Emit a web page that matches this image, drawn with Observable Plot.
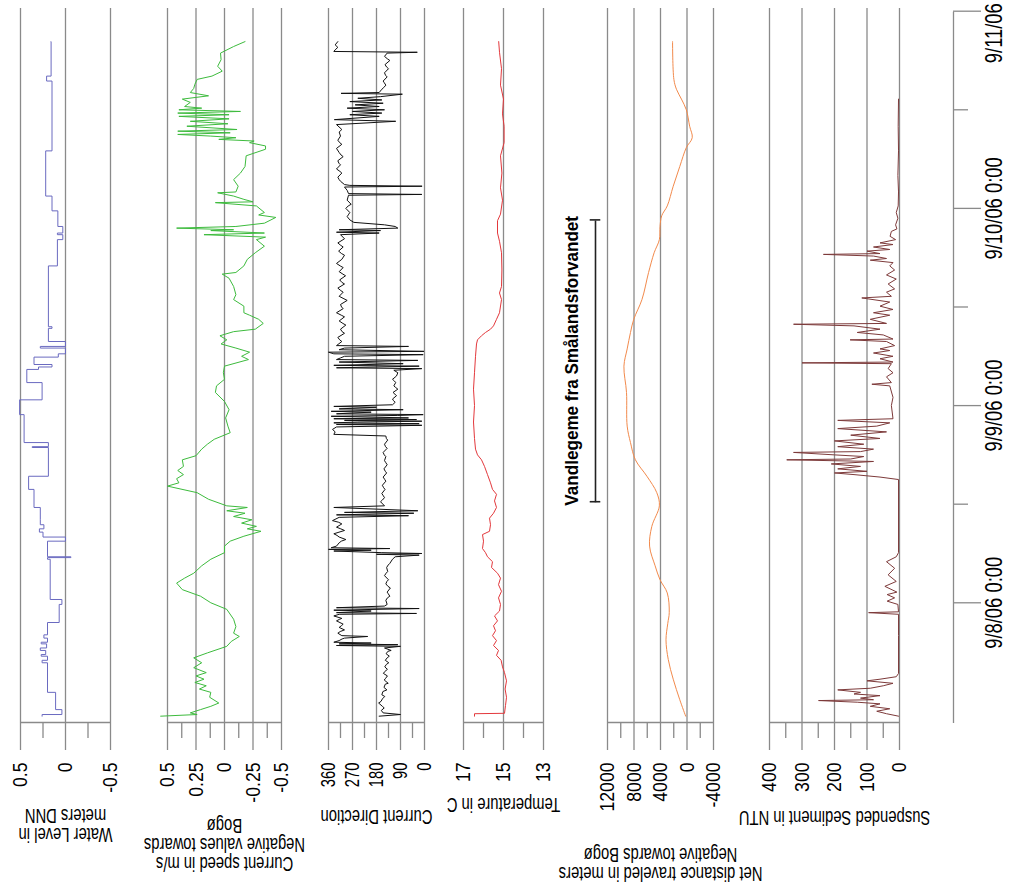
<!DOCTYPE html>
<html><head><meta charset="utf-8">
<script src="https://cdn.jsdelivr.net/npm/d3@7"></script>
<script src="https://cdn.jsdelivr.net/npm/@observablehq/plot@0.6"></script>
<style>
html,body{margin:0;padding:0;background:#fff;overflow:hidden;width:1015px;height:896px;}
#rot{position:absolute;left:0;top:0;width:896px;height:1015px;transform-origin:0 0;transform:translate(0,896px) rotate(-90deg);}
#rot svg{position:absolute;left:0;top:0;}
</style></head>
<body><div id="rot"></div>
<script>
// ---------- DATA (time in hours after 9/8/06 0:00) ----------
const timeTickHours = [0, 24, 48, 72];
const timeTickLabels = ["9/8/06 0:00", "9/9/06 0:00", "9/10/06 0:00", "9/11/06"];
const timeMinorHours = [12, 36, 60];

const waterLevel = [
[-13.8,0.26],[-13.6,0.04],[-13.0,0.11],[-10.9,0.20],[-7.3,0.26],[-7.0,0.20],[-6.5,0.27],[-6.3,0.22],[-5.8,0.28],[-5.5,0.21],[-5.0,0.27],[-4.8,0.20],[-4.3,0.24],[-3.9,0.20],[-2.4,0.07],[-0.2,0.04],[0.4,0.17],[5.3,0.20],[5.5,-0.06],[5.6,0.20],[7.5,0.0],[8.0,0.25],[8.6,0.29],[9.0,0.24],[9.5,0.28],[10.1,0.28],[11.6,0.35],[13.8,0.41],[15.4,0.19],[18.9,0.37],[19.0,0.19],[19.5,0.46],[22.9,0.51],[24.7,0.26],[26.8,0.43],[28.4,0.30],[28.7,0.15],[29.0,0.35],[29.9,0.08],[30.3,0.0],[31.0,0.28],[31.2,0.0],[31.8,0.19],[33.4,0.15],[33.6,0.19],[41.0,0.09],[44.2,0.03],[44.8,0.09],[45.0,0.03],[45.8,0.085],[47.7,0.15],[49.5,0.22],[55.0,0.15],[63.5,0.21],[64.1,0.16],[68.3,0.16]
];

const currentSpeed = [
[-13.8,0.56],[-13.6,0.24],[-13.4,0.30],[-13.0,0.21],[-12.6,0.12],[-12.2,0.05],[-11.5,0.13],[-10.9,0.12],[-10.5,0.22],[-10.1,0.16],[-9.7,0.26],[-9.3,0.18],[-8.9,0.25],[-8.5,0.16],[-7.9,0.27],[-7.3,0.20],[-6.7,0.27],[-6.1,0.15],[-5.3,-0.02],[-4.7,-0.06],[-4.1,-0.13],[-3.7,-0.08],[-2.9,-0.10],[-2.0,-0.08],[-0.8,-0.02],[0.0,0.12],[0.8,0.21],[1.6,0.37],[2.4,0.42],[3.0,0.35],[3.6,0.27],[4.5,0.20],[5.3,0.12],[6.1,0.0],[6.9,0.0],[7.5,-0.05],[8.1,-0.17],[8.7,-0.32],[9.0,-0.20],[9.3,-0.28],[9.7,-0.15],[10.1,-0.24],[10.5,-0.08],[10.9,-0.18],[11.2,-0.02],[11.6,-0.20],[11.8,-0.02],[12.6,0.14],[13.4,0.24],[14.2,0.50],[14.6,0.40],[15.1,0.42],[15.6,0.36],[16.1,0.41],[16.6,0.36],[17.4,0.37],[17.9,0.25],[18.7,0.20],[19.3,0.15],[19.9,0.09],[20.7,-0.05],[21.5,-0.03],[22.5,-0.01],[23.5,-0.04],[24.5,0.0],[25.6,0.08],[26.4,0.07],[27.2,0.0],[28.0,0.01],[28.8,0.0],[29.6,-0.21],[30.0,-0.15],[30.5,-0.22],[31.0,-0.10],[31.5,0.03],[32.0,-0.02],[32.5,0.04],[33.0,-0.08],[33.3,-0.27],[34.0,-0.34],[34.5,-0.30],[35.0,-0.22],[35.3,-0.17],[36.1,-0.17],[36.9,-0.08],[37.5,-0.10],[38.5,-0.08],[39.5,-0.04],[40.0,0.02],[40.2,-0.10],[41.0,-0.17],[41.8,-0.20],[42.6,-0.27],[43.4,-0.35],[44.2,-0.28],[44.5,-0.36],[44.8,0.18],[45.0,-0.35],[45.3,0.12],[45.4,-0.08],[45.6,0.42],[45.8,-0.10],[46.2,-0.35],[46.9,-0.45],[47.2,-0.30],[47.5,-0.35],[48.3,-0.28],[48.7,0.08],[48.8,-0.25],[49.1,-0.17],[49.5,-0.08],[49.9,0.06],[50.0,-0.10],[50.7,-0.12],[51.5,-0.08],[52.3,-0.14],[53.1,-0.18],[54.4,-0.19],[55.2,-0.36],[55.6,-0.36],[56.0,-0.22],[56.2,-0.26],[56.4,0.05],[56.6,-0.10],[56.8,0.12],[57.0,0.41],[57.2,-0.05],[57.4,0.41],[57.6,-0.11],[58.0,0.33],[58.3,-0.03],[58.6,0.30],[58.9,-0.04],[59.2,0.40],[59.4,-0.04],[59.6,0.41],[59.8,-0.14],[60.0,0.40],[60.2,0.20],[60.4,0.35],[60.9,0.30],[61.3,0.37],[61.7,0.14],[62.1,0.30],[62.6,0.27],[63.1,0.26],[63.7,0.24],[64.1,0.11],[64.7,0.02],[65.3,0.06],[66.1,0.03],[66.9,0.035],[67.7,-0.08],[68.3,-0.18]
];

const currentDirection = [
[-13.8,170],[-13.6,90],[-13.4,155],[-13.1,162],[-12.8,151],[-12.6,158],[-12.2,172],[-12.0,163],[-11.7,158],[-11.4,149],[-11.2,160],[-10.8,156],[-10.6,141],[-10.3,152],[-9.9,147],[-9.8,136],[-9.4,151],[-9.2,146],[-8.9,139],[-8.6,154],[-8.4,150],[-8.1,139],[-7.8,149],[-7.5,143],[-7.3,134],[-7.0,147],[-6.7,140],[-6.5,132],[-6.2,144],[-5.9,137],[-5.8,125],[-5.5,150],[-5.3,90],
[-5.2,330],[-5.1,100],[-5.0,320],[-4.9,200],[-4.8,340],
[-4.6,320],[-4.4,309],[-4.3,300],[-4.1,213],[-4.0,310],[-3.7,325],[-3.5,316],[-3.3,300],[-3.0,320],[-2.8,312],[-2.6,305],[-2.2,330],[-2.0,318],[-1.9,310],[-1.6,340],[-1.4,320],
[-1.3,30],[-1.2,330],[-1.0,200],[-0.9,340],[-0.7,20],[-0.6,330],[-0.4,150],[-0.2,140],
[0.3,145],[0.6,139],[0.8,130],[1.1,136],[1.3,140],[1.8,128],[2.0,137],[2.3,145],[2.6,141],[2.8,135],[3.3,150],[3.6,144],[3.8,138],[4.3,142],[4.6,136],[4.8,130],[5.3,120],[5.6,110],
[5.8,20],[5.9,180],[6.0,10],[6.1,160],[6.3,340],[6.4,200],[6.5,360],[6.6,130],[6.7,350],[6.9,330],
[7.3,320],[7.5,312],[7.7,295],[8.0,320],[8.2,328],[8.4,340],[8.8,300],[9.0,314],[9.2,330],[9.6,310],[9.8,322],[10.0,345],[10.4,320],
[10.6,60],[10.7,330],[10.9,40],[11.0,300],[11.2,25],[11.4,180],[11.6,340],[11.8,150],
[12.3,165],[12.5,158],[12.8,150],[13.1,156],[13.3,160],[13.8,148],[14.0,153],[14.3,158],[14.8,145],[15.0,149],[15.3,155],[15.8,142],[16.0,147],[16.3,152],[16.8,140],[17.1,146],[17.3,150],[17.8,145],[18.0,151],[18.3,155],[18.8,140],[19.0,146],[19.3,150],[19.8,138],[20.0,143],[20.3,145],[20.5,340],
[20.8,335],[21.1,345],[21.4,330],
[21.6,10],[21.7,330],[21.8,20],[21.9,340],[22.0,250],[22.1,10],[22.2,300],[22.3,30],[22.4,340],[22.5,60],[22.7,350],[22.8,100],[22.9,5],[23.0,330],[23.2,200],[23.3,350],[23.5,80],[23.6,320],[23.8,180],[23.9,340],[24.1,120],
[24.4,110],[24.6,116],[24.8,120],[25.2,105],[25.4,111],[25.6,118],[26.0,100],[26.2,108],[26.4,115],[26.8,108],[27.0,113],[27.2,120],[27.6,105],[28.0,100],[28.3,115],
[28.5,10],[28.6,330],[28.8,20],[28.9,340],[29.1,80],[29.3,320],[29.5,25],[29.6,330],
[29.8,315],[30.0,300],[30.2,5],[30.3,340],[30.5,360],[30.6,2],[30.8,320],[31.0,300],[31.2,60],[31.3,330],
[31.8,310],[32.0,318],[32.3,325],[32.8,300],[33.0,309],[33.3,315],[33.8,295],[34.0,306],[34.3,320],[34.8,300],[35.0,312],[35.3,330],[35.8,305],[36.0,311],[36.3,315],[36.8,290],[37.0,302],[37.3,320],[37.8,305],[38.0,314],[38.3,325],[38.8,300],[39.0,310],[39.3,318],[39.8,296],[40.0,306],[40.3,320],[40.8,305],[41.0,316],[41.3,330],[41.8,310],[42.3,300],[42.5,311],[42.8,322],[43.3,305],[43.5,314],[43.8,325],[44.3,300],[44.8,315],
[45.0,170],[45.1,330],[45.3,165],[45.4,320],[45.6,100],[45.8,110],[46.0,150],[46.3,265],[46.6,280],
[47.0,290],[47.3,284],[47.5,280],[48.0,295],[48.3,286],[48.5,275],[49.0,290],[49.6,285],[49.7,10],[49.8,285],[50.2,290],[50.6,300],[50.7,9],[50.8,280],[50.9,300],
[51.3,315],[51.5,320],[51.8,325],[52.3,310],[52.5,317],[52.8,330],[53.3,315],[53.5,321],[53.8,325],[54.3,305],[54.5,313],[54.8,320],[55.3,330],[55.8,310],[56.0,318],[56.3,325],[56.8,315],[57.3,320],[57.6,310],
[58.2,330],[58.6,108],[58.8,338],
[59.2,170],[59.4,280],[59.6,160],[59.8,270],[60.0,150],[60.2,290],[60.4,170],[60.6,260],[60.8,155],[61.0,280],[61.2,160],[61.4,250],[61.6,165],[61.9,83],[62.0,313],[62.1,170],
[62.5,160],[62.7,153],[63.0,145],[63.3,151],[63.5,155],[64.0,140],[64.2,146],[64.5,150],[65.0,135],[65.2,142],[65.5,148],[66.0,130],[66.2,139],[66.5,150],[66.9,140],[67.0,27],[67.1,340],[67.3,335],[67.6,325],[67.9,335],[68.3,325]
];

const temperature = [
[-13.8,16.45],[-13.5,16.45],[-13.45,14.95],[-12.5,14.9],[-11.5,14.85],[-10.5,14.92],[-9.5,14.85],[-8.5,14.95],[-7.8,15.05],[-7.0,15.12],[-6.4,15.35],[-5.8,15.25],[-5.2,15.5],[-4.6,15.35],[-4.0,15.55],[-3.4,15.4],[-2.8,15.5],[-2.2,15.3],[-1.6,15.45],[-1.0,15.2],[-0.2,15.15],[0.6,15.25],[1.4,15.1],[2.2,15.25],[3.0,15.15],[3.6,15.3],[4.3,15.6],[5.0,15.55],[5.6,15.8],[6.1,15.9],[6.6,16.05],[7.5,16.0],[8.3,16.05],[8.7,15.7],[9.5,15.65],[10.3,15.7],[10.9,15.5],[11.6,15.35],[12.4,15.45],[13.2,15.35],[13.8,15.55],[14.6,15.65],[15.6,15.8],[16.6,15.95],[17.4,16.1],[18.0,16.3],[18.7,16.4],[20.0,16.45],[22.0,16.5],[24.0,16.45],[26.0,16.5],[28.0,16.45],[30.0,16.4],[31.5,16.35],[32.0,16.3],[32.5,16.1],[32.9,15.9],[33.3,15.65],[33.7,15.5],[34.5,15.35],[35.3,15.2],[36.9,15.1],[37.7,15.2],[38.5,15.1],[40.5,15.08],[42.6,15.1],[44.0,15.2],[45.0,15.3],[46.5,15.3],[47.3,15.15],[49.0,15.05],[50.5,15.15],[52.3,15.08],[54.4,15.15],[56.0,14.97],[58.0,14.97],[59.5,15.05],[61.3,15.0],[63.0,15.15],[65.0,15.1],[67.0,15.2],[68.3,15.24]
];

const netDistance = [
[-13.8,200],[-11.8,1090],[-9.3,2080],[-6.9,2830],[-4.5,3170],[-2.5,2900],[-1.2,2680],[1.2,2980],[2.8,4070],[4.5,4810],[6.9,5650],[9.3,5310],[11.8,4170],[13.4,4560],[15.4,6050],[17.4,7790],[19.5,8530],[21.5,9030],[25.6,9130],[28.8,9520],[30.9,9030],[32.9,8530],[34.5,8040],[36.9,6800],[40.2,5800],[42.6,4960],[44.2,4170],[45.8,4070],[47.1,3820],[48.3,2980],[50.7,2080],[53.1,1090],[55.4,100],[56.6,-790],[58.0,-400],[60.0,100],[61.3,840],[62.5,1590],[63.7,1980],[68.3,2180]
];

const suspendedSediment = [
[-13.8,3],[-13.5,40],[-13.2,70],[-12.9,30],[-12.6,90],[-12.3,60],[-12.1,130],[-11.9,249],[-11.8,80],[-11.6,120],[-11.3,60],[-11.1,140],[-10.9,120],[-10.6,190],[-10.4,90],[-10.1,50],[-9.8,20],[-9.5,100],[-9.3,60],[-9.0,10],[-8.6,3],[-4.0,3],[-1.4,3],[-1.2,95],[-1.1,3],[-0.2,5],[0.2,38],[0.6,15],[1.0,38],[1.3,8],[2.0,45],[2.6,10],[3.4,35],[4.2,15],[5.0,40],[5.6,10],[6.1,3],[15.0,3],[15.3,60],[15.6,140],[15.8,200],[16.0,100],[16.3,190],[16.6,120],[16.9,210],[17.2,80],[17.4,347],[17.5,150],[17.8,110],[18.0,200],[18.3,326],[18.4,120],[18.7,80],[19.0,190],[19.3,110],[19.7,200],[20.0,60],[20.4,150],[20.8,40],[21.2,190],[21.5,70],[21.9,30],[22.2,190],[22.4,20],[24.0,25],[25.0,20],[26.4,30],[26.6,85],[26.8,25],[27.5,40],[28.0,20],[28.5,35],[29.1,25],[29.2,300],[29.3,20],[29.7,60],[30.0,20],[30.4,80],[30.7,30],[30.9,60],[31.3,15],[31.8,40],[32.0,152],[32.1,20],[32.6,50],[32.9,130],[33.3,60],[33.7,140],[33.9,326],[34.0,40],[34.5,90],[35.0,30],[35.3,80],[35.7,20],[36.1,60],[36.6,30],[37.1,116],[37.3,25],[37.8,40],[38.2,15],[38.8,35],[39.4,10],[39.9,40],[40.5,15],[41.0,30],[41.4,20],[41.7,90],[41.9,40],[42.2,80],[42.4,234],[42.5,60],[42.8,100],[43.0,30],[43.3,80],[43.6,20],[43.8,60],[44.2,12],[44.6,29],[45.2,25],[45.5,8],[46.0,12],[46.8,5],[47.5,10],[48.3,4],[50.0,3],[52.0,5],[55.0,3],[58.0,4],[61.3,3]
];

const annotationLabel = "Vandlegeme fra Smålandsforvandet";
const annotationHours = [12.3, 46.6];

// ---------- LAYOUT (unrotated frame, rotated -90° afterwards) ----------
const W = 896, H = 1015;
const t0 = Date.UTC(2006, 8, 8);
const toTime = h => new Date(t0 + h * 3600000);
const timeDomain = [toTime(-14.57), toTime(72.45)];
const xRange = [173, 888];
const FONT = "'Liberation Sans', Arial, Helvetica, sans-serif";
const GRID = "#8a8a8a";
const condenseBySize = {21: 0.84, 20: 0.74, 23: 0.8, 19: 0.9};

function condense(svg) {
  svg.querySelectorAll("text").forEach(t => {
    const g = t.closest("[font-size]");
    const fs = g ? parseFloat(g.getAttribute("font-size")) : 10;
    const s = condenseBySize[fs];
    if (!s) return;
    let tr = t.getAttribute("transform");
    if (!tr) {
      const x = +t.getAttribute("x") || 0, y = +t.getAttribute("y") || 0;
      t.removeAttribute("x"); t.removeAttribute("y");
      tr = `translate(${x},${y})`;
    }
    t.setAttribute("transform", `${tr} scale(${s},1)`);
  });
  return svg;
}

const baseStyle = `background:transparent;position:absolute;left:0;top:0;overflow:visible;font-family:${FONT};color:#000;`;

const panels = [
  {data: waterLevel, color: "#6a6ac0", domain: [-0.5, 0.5], top: 20, bottom: 110, major: [0.5, 0, -0.5], minor: [0.25, -0.25], title: "Water Level in\nmeters DNN", titleX: 71, curve: "step-after", fs: 21},
  {data: currentSpeed, color: "#3dbb3d", domain: [-0.5, 0.5], top: 167, bottom: 281, major: [0.5, 0.25, 0, -0.25, -0.5], minor: [0.375, 0.125, -0.125, -0.375], title: "Current speed in m/s\nNegative values towards\nBogø", titleX: 51, curve: "linear", fs: 21},
  {data: currentDirection, color: "#111111", domain: [0, 360], top: 328, bottom: 424, major: [360, 270, 180, 90, 0], minor: [315, 225, 135, 45], title: "Current Direction", titleX: 79, curve: "linear", fs: 20},
  {data: temperature, color: "#e3383c", domain: [13, 17], top: 463, bottom: 543, major: [17, 15, 13], minor: [16, 14], title: "Temperature in C", titleX: 91, curve: "linear", fs: 21},
  {data: netDistance, color: "#f28a4c", domain: [-4000, 12000], top: 607, bottom: 713, major: [12000, 8000, 4000, 0, -4000], minor: [10000, 6000, 2000, -2000], title: "Net distance traveled in meters\nNegative towards Bogø", titleX: 32, curve: "catmull-rom", fs: 21},
  {data: suspendedSediment, color: "#7d3a3a", domain: [0, 400], top: 769, bottom: 899, major: [400, 300, 200, 100, 0], minor: [350, 250, 150, 50], title: "Suspended Sediment in NTU", titleX: 78, curve: "linear", fs: 21}
];

const root = document.getElementById("rot");

for (const p of panels) {
  const svg = Plot.plot({
    width: W, height: H,
    marginLeft: xRange[0], marginRight: W - xRange[1],
    marginTop: p.top, marginBottom: H - p.bottom,
    style: baseStyle,
    x: {type: "utc", domain: timeDomain, range: xRange, axis: null},
    y: {domain: p.domain, range: [p.bottom, p.top]},
    marks: [
      Plot.gridY({ticks: p.major, stroke: GRID, strokeOpacity: 1, strokeWidth: 1.3}),
      Plot.ruleX([timeDomain[0]], {stroke: GRID, strokeWidth: 1.3}),
      Plot.axisY({ticks: p.major, tickSize: 27, tickPadding: 13, fontSize: p.fs, stroke: GRID, strokeWidth: 1.3, tickFormat: d => String(d), label: null}),
      Plot.axisY({ticks: p.minor, tickSize: 15, fill: "none", stroke: GRID, strokeWidth: 1.3, label: null}),
      Plot.line(p.data, {x: d => toTime(d[0]), y: d => d[1], stroke: p.color, strokeWidth: 1, curve: p.curve}),
      Plot.text([p.title], {text: d => d, frameAnchor: "left", dx: p.titleX - xRange[0], rotate: -90, fontSize: 20, lineHeight: 0.95, textAnchor: "middle", lineAnchor: "middle", fill: "#000"})
    ]
  });
  root.appendChild(condense(svg));
}

// annotation bracket
const ann = Plot.plot({
  width: W, height: H,
  marginLeft: xRange[0], marginRight: W - xRange[1],
  marginTop: 560, marginBottom: H - 600,
  style: baseStyle,
  x: {type: "utc", domain: timeDomain, range: xRange, axis: null},
  y: {domain: [0, 1], range: [595, 571], axis: null},
  marks: [
    Plot.ruleY([annotationHours], {x1: d => toTime(d[0]), x2: d => toTime(d[1]), y: () => 0, stroke: "#222", strokeWidth: 1.6}),
    Plot.ruleX(annotationHours.map(toTime), {y1: () => -0.22, y2: () => 0.22, stroke: "#222", strokeWidth: 1.6}),
    Plot.text([annotationLabel], {text: d => d, x: () => toTime((annotationHours[0] + annotationHours[1]) / 2), y: () => 1, fontSize: 19, fontWeight: "bold", fill: "#000"})
  ]
});
root.appendChild(condense(ann));

// time axis
const majorTimes = timeTickHours.map(toTime);
const labelled = majorTimes.map((t, i) => ({t, label: timeTickLabels[i]}));
const lastLabel = labelled.slice(-1);
const tax = Plot.plot({
  width: W, height: H,
  marginLeft: xRange[0], marginRight: W - xRange[1],
  marginTop: 940, marginBottom: H - 953,
  style: baseStyle,
  x: {type: "utc", domain: timeDomain, range: xRange},
  y: {domain: [0, 1], range: [953, 940], axis: null},
  marks: [
    Plot.ruleY([[timeDomain[0], majorTimes[majorTimes.length - 1]]], {x1: d => d[0], x2: d => d[1], y: () => 0, stroke: GRID, strokeWidth: 1.3}),
    Plot.axisX({ticks: majorTimes, anchor: "bottom", tickSize: 28, fill: "none", stroke: GRID, strokeWidth: 1.3, label: null}),
    Plot.axisX({ticks: timeMinorHours.map(toTime), anchor: "bottom", tickSize: 15, fill: "none", stroke: GRID, strokeWidth: 1.3, label: null}),
    Plot.text(labelled.slice(0, -1), {x: "t", text: "label", frameAnchor: "bottom", dy: 32, lineAnchor: "top", textAnchor: "middle", fontSize: 23, fill: "#000"}),
    Plot.text(lastLabel, {x: "t", text: "label", frameAnchor: "bottom", dy: 32, dx: 8, lineAnchor: "top", textAnchor: "end", fontSize: 23, fill: "#000"})
  ]
});
root.appendChild(condense(tax));
</script>
</body></html>
